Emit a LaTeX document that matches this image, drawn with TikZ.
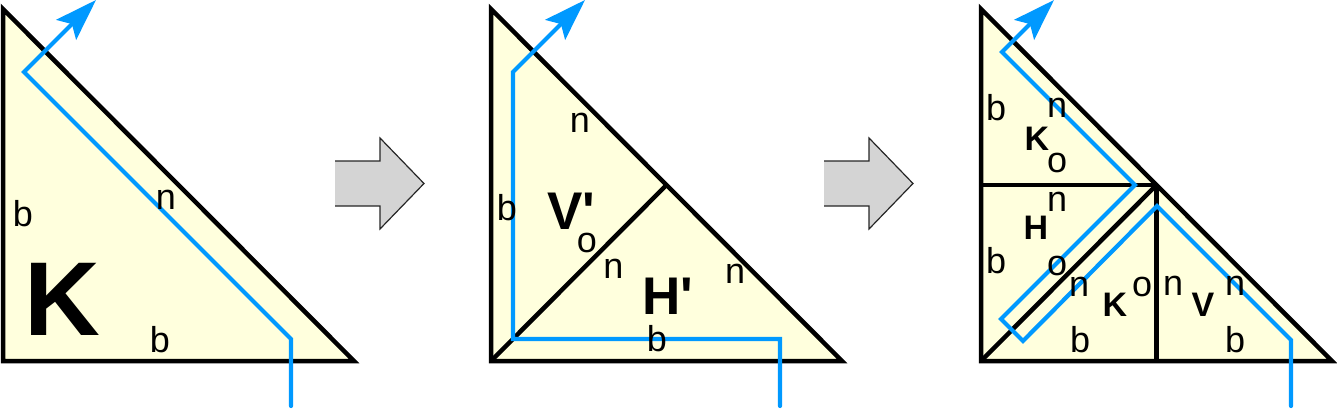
\documentclass[tikz,border=0pt]{standalone}
\usepackage{fontspec}
\setmainfont{Liberation Sans}
\usetikzlibrary{arrows.meta}
\definecolor{trifill}{RGB}{255,255,221}
\definecolor{routeblue}{RGB}{0,153,255}
\definecolor{arrgray}{RGB}{212,212,212}
\begin{document}
\begin{tikzpicture}[x=1pt,y=-1pt,
  edge/.style={line width=4.5pt, draw=black},
  tri/.style={edge, fill=trifill},
  route/.style={line width=4.2pt, draw=routeblue, line cap=round,
    -{Stealth[length=42pt,width=28pt,inset=8pt,fill=routeblue]}},
  lbl/.style={inner sep=0pt, font=\fontsize{36}{40}\selectfont},
  bigl/.style={inner sep=0pt, font=\fontsize{53}{60}\selectfont\bfseries},
  hugel/.style={inner sep=0pt, font=\fontsize{105}{110}\selectfont\bfseries},
  midl/.style={inner sep=0pt, font=\fontsize{34}{38}\selectfont\bfseries},
  bigarrow/.style={fill=arrgray},
  bigarrowline/.style={line width=1.2pt, draw=black!85}]
\useasboundingbox (0,0) rectangle (1337,409);

% ---------- triangle 1 ----------
\coordinate (A1) at (3,9);
\coordinate (B1) at (3,361);
\coordinate (C1) at (354,361);
\draw[tri] (A1) -- (B1) -- (C1) -- cycle;
\coordinate (p1a) at (291,406);
\coordinate (p1b) at (291,339);
\coordinate (p1c) at (24,72);
\coordinate (p1d) at (96,0);
\draw[route] (p1a) -- (p1b) -- (p1c) -- (p1d);
\node[lbl] (t1b1) at (23,214) {b};
\node[lbl] (t1n) at (166,200) {n};
\node[lbl] (t1b2) at (160,340) {b};
\node[hugel] (t1K) at (62,299) {K};

% ---------- arrow 1 ----------
\coordinate (g1a) at (335,161);
\coordinate (g1b) at (380,161);
\coordinate (g1c) at (380,138);
\coordinate (g1d) at (424,183.5);
\coordinate (g1e) at (380,229);
\coordinate (g1f) at (380,206);
\coordinate (g1g) at (335,206);
\fill[bigarrow] (g1a) -- (g1b) -- (g1c) -- (g1d) -- (g1e) -- (g1f) -- (g1g) -- cycle;
\draw[bigarrowline] (g1a) -- (g1b) -- (g1c) -- (g1d) -- (g1e) -- (g1f) -- (g1g);

% ---------- triangle 2 ----------
\coordinate (A2) at (491,9);
\coordinate (B2) at (491,361);
\coordinate (C2) at (842,361);
\coordinate (M2) at (666.5,185);
\draw[tri] (A2) -- (B2) -- (C2) -- cycle;
\draw[edge] (B2) -- (M2);
\coordinate (p2a) at (780,406);
\coordinate (p2b) at (780,339);
\coordinate (p2c) at (513,339);
\coordinate (p2d) at (513,72);
\coordinate (p2e) at (585,0);
\draw[route] (p2a) -- (p2b) -- (p2c) -- (p2d) -- (p2e);
\node[lbl] (t2n1) at (580,123) {n};
\node[lbl] (t2b1) at (507,208) {b};
\node[bigl] (t2V) at (571,211) {V\textquotesingle};
\node[lbl] (t2o) at (587,243) {o};
\node[lbl] (t2n2) at (613.5,269) {n};
\node[bigl] (t2H) at (667.5,296) {H\textquotesingle};
\node[lbl] (t2n3) at (735,274) {n};
\node[lbl] (t2b2) at (657,339) {b};

% ---------- arrow 2 ----------
\begin{scope}[xshift=489pt]
\coordinate (g2a) at (335,161);
\coordinate (g2b) at (380,161);
\coordinate (g2c) at (380,138);
\coordinate (g2d) at (424,183.5);
\coordinate (g2e) at (380,229);
\coordinate (g2f) at (380,206);
\coordinate (g2g) at (335,206);
\end{scope}
\fill[bigarrow] (g2a) -- (g2b) -- (g2c) -- (g2d) -- (g2e) -- (g2f) -- (g2g) -- cycle;
\draw[bigarrowline] (g2a) -- (g2b) -- (g2c) -- (g2d) -- (g2e) -- (g2f) -- (g2g);

% ---------- triangle 3 ----------
\coordinate (A3) at (981,9);
\coordinate (B3) at (981,361);
\coordinate (C3) at (1332,361);
\coordinate (M3) at (1156.5,185);
\coordinate (H3) at (981,185);
\coordinate (V3) at (1156.5,361);
\draw[tri] (A3) -- (B3) -- (C3) -- cycle;
\draw[edge] (H3) -- (M3);
\draw[edge] (B3) -- (M3);
\draw[edge] (M3) -- (V3);
\coordinate (p3a) at (1291,406);
\coordinate (p3b) at (1291,340);
\coordinate (p3c) at (1157,206);
\coordinate (p3d) at (1023,341);
\coordinate (p3e) at (1001,319);
\coordinate (p3f) at (1135,185);
\coordinate (p3g) at (1002,52);
\coordinate (p3h) at (1054,0);
\draw[route] (p3a) -- (p3b) -- (p3c) -- (p3d) -- (p3e) -- (p3f) -- (p3g) -- (p3h);
\node[lbl] (t3b1) at (996,108) {b};
\node[lbl] (t3n1) at (1057,108) {n};
\node[midl] (t3K1) at (1037,139) {K};
\node[lbl] (t3o1) at (1057,163) {o};
\node[lbl] (t3n2) at (1057,202) {n};
\node[midl] (t3H) at (1036,228) {H};
\node[lbl] (t3b2) at (996,261) {b};
\node[lbl] (t3o2) at (1057,266) {o};
\node[lbl] (t3n3) at (1079,287) {n};
\node[midl] (t3K2) at (1115,305) {K};
\node[lbl] (t3o3) at (1142,287) {o};
\node[lbl] (t3n4) at (1173,286) {n};
\node[midl] (t3V) at (1203,305) {V};
\node[lbl] (t3n5) at (1235,286) {n};
\node[lbl] (t3b3) at (1080,340) {b};
\node[lbl] (t3b4) at (1235,340) {b};
\end{tikzpicture}
\end{document}
